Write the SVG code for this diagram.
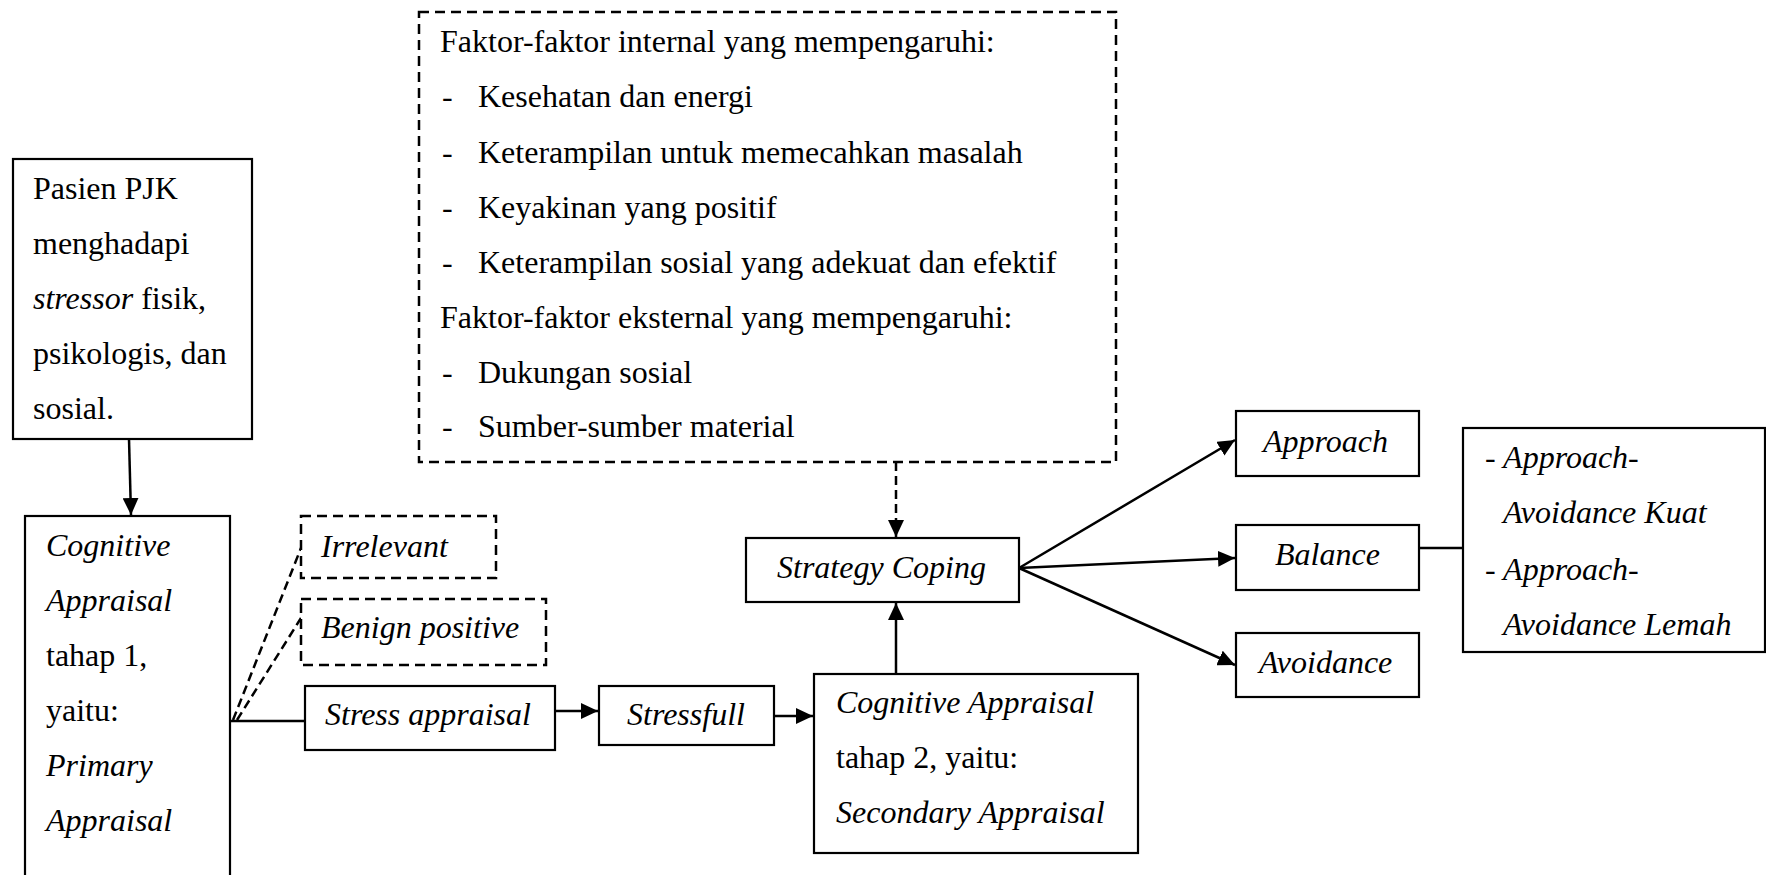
<svg xmlns="http://www.w3.org/2000/svg" width="1766" height="875" viewBox="0 0 1766 875">
<style>
.box{fill:#fff;stroke:#000;stroke-width:2.2}
.dbox{fill:#fff;stroke:#000;stroke-width:2.5;stroke-dasharray:10 6}
.t{font-family:"Liberation Serif","Times New Roman",serif;font-size:32px;fill:#000}
.i{font-style:italic}
.c{fill:none;stroke:#000;stroke-width:2.5}
.d{fill:none;stroke:#000;stroke-width:2.5;stroke-dasharray:9 5}
</style>
<defs>
<marker id="ah" markerUnits="userSpaceOnUse" markerWidth="18" markerHeight="16" refX="17" refY="8" orient="auto">
<path d="M0,0 L17,8 L0,16 z" fill="#000"/>
</marker>
</defs>
<rect width="1766" height="875" fill="#fff"/>
<g id="connectors">
<line class="c" x1="129" y1="439" x2="131" y2="515" marker-end="url(#ah)"/>
<line class="c" x1="230" y1="721" x2="305" y2="721"/>
<line class="d" x1="233" y1="720" x2="301" y2="548"/>
<line class="d" x1="237" y1="720" x2="301" y2="618"/>
<line class="c" x1="555" y1="711" x2="598" y2="711" marker-end="url(#ah)"/>
<line class="c" x1="774" y1="716" x2="813" y2="716" marker-end="url(#ah)"/>
<line class="c" x1="896" y1="674" x2="896" y2="603" marker-end="url(#ah)"/>
<line class="d" x1="896" y1="462" x2="896" y2="537" marker-end="url(#ah)"/>
<line class="c" x1="1019" y1="568" x2="1235" y2="440" marker-end="url(#ah)"/>
<line class="c" x1="1019" y1="568" x2="1235" y2="558" marker-end="url(#ah)"/>
<line class="c" x1="1019" y1="568" x2="1235" y2="665" marker-end="url(#ah)"/>
<line class="c" x1="1419" y1="548" x2="1463" y2="548"/>
</g>
<g id="pasien">
<rect class="box" x="13" y="159" width="239" height="280"/>
<text class="t" x="33" y="199">Pasien PJK</text>
<text class="t" x="33" y="254">menghadapi</text>
<text class="t" x="33" y="309"><tspan class="i">stressor</tspan> fisik,</text>
<text class="t" x="33" y="364">psikologis, dan</text>
<text class="t" x="33" y="419">sosial.</text>
</g>
<g id="cognitive1">
<rect class="box" x="25" y="516" width="205" height="370"/>
<text class="t i" x="46" y="556">Cognitive</text>
<text class="t i" x="46" y="611">Appraisal</text>
<text class="t" x="46" y="666">tahap 1,</text>
<text class="t" x="46" y="721">yaitu:</text>
<text class="t i" x="46" y="776">Primary</text>
<text class="t i" x="46" y="831">Appraisal</text>
</g>
<g id="irrelevant">
<rect class="dbox" x="301" y="516" width="195" height="62"/>
<text class="t i" x="321" y="557">Irrelevant</text>
</g>
<g id="benign">
<rect class="dbox" x="301" y="599" width="245" height="66"/>
<text class="t i" x="321" y="638">Benign positive</text>
</g>
<g id="stress-appraisal">
<rect class="box" x="305" y="686" width="250" height="64"/>
<text class="t i" x="325" y="725">Stress appraisal</text>
</g>
<g id="stressfull">
<rect class="box" x="599" y="686" width="175" height="59"/>
<text class="t i" x="627" y="725">Stressfull</text>
</g>
<g id="cognitive2">
<rect class="box" x="814" y="674" width="324" height="179"/>
<text class="t i" x="836" y="713">Cognitive Appraisal</text>
<text class="t" x="836" y="768">tahap 2, yaitu:</text>
<text class="t i" x="836" y="823">Secondary Appraisal</text>
</g>
<g id="strategy-coping">
<rect class="box" x="746" y="538" width="273" height="64"/>
<text class="t i" x="777" y="578">Strategy Coping</text>
</g>
<g id="faktor">
<rect class="dbox" x="419" y="12" width="697" height="450"/>
<text class="t" x="440" y="52">Faktor-faktor internal yang mempengaruhi:</text>
<text class="t" x="442" y="107">-</text><text class="t" x="478" y="107">Kesehatan dan energi</text>
<text class="t" x="442" y="163">-</text><text class="t" x="478" y="163">Keterampilan untuk memecahkan masalah</text>
<text class="t" x="442" y="218">-</text><text class="t" x="478" y="218">Keyakinan yang positif</text>
<text class="t" x="442" y="273">-</text><text class="t" x="478" y="273">Keterampilan sosial yang adekuat dan efektif</text>
<text class="t" x="440" y="328">Faktor-faktor eksternal yang mempengaruhi:</text>
<text class="t" x="442" y="383">-</text><text class="t" x="478" y="383">Dukungan sosial</text>
<text class="t" x="442" y="437">-</text><text class="t" x="478" y="437">Sumber-sumber material</text>
</g>
<g id="approach">
<rect class="box" x="1236" y="411" width="183" height="65"/>
<text class="t i" x="1263" y="452">Approach</text>
</g>
<g id="balance">
<rect class="box" x="1236" y="525" width="183" height="65"/>
<text class="t i" x="1275" y="565">Balance</text>
</g>
<g id="avoidance">
<rect class="box" x="1236" y="633" width="183" height="64"/>
<text class="t i" x="1259" y="673">Avoidance</text>
</g>
<g id="approach-avoidance">
<rect class="box" x="1463" y="428" width="302" height="224"/>
<text class="t i" x="1485" y="468">- Approach-</text>
<text class="t i" x="1503" y="523">Avoidance Kuat</text>
<text class="t i" x="1485" y="580">- Approach-</text>
<text class="t i" x="1503" y="635">Avoidance Lemah</text>
</g>
</svg>
